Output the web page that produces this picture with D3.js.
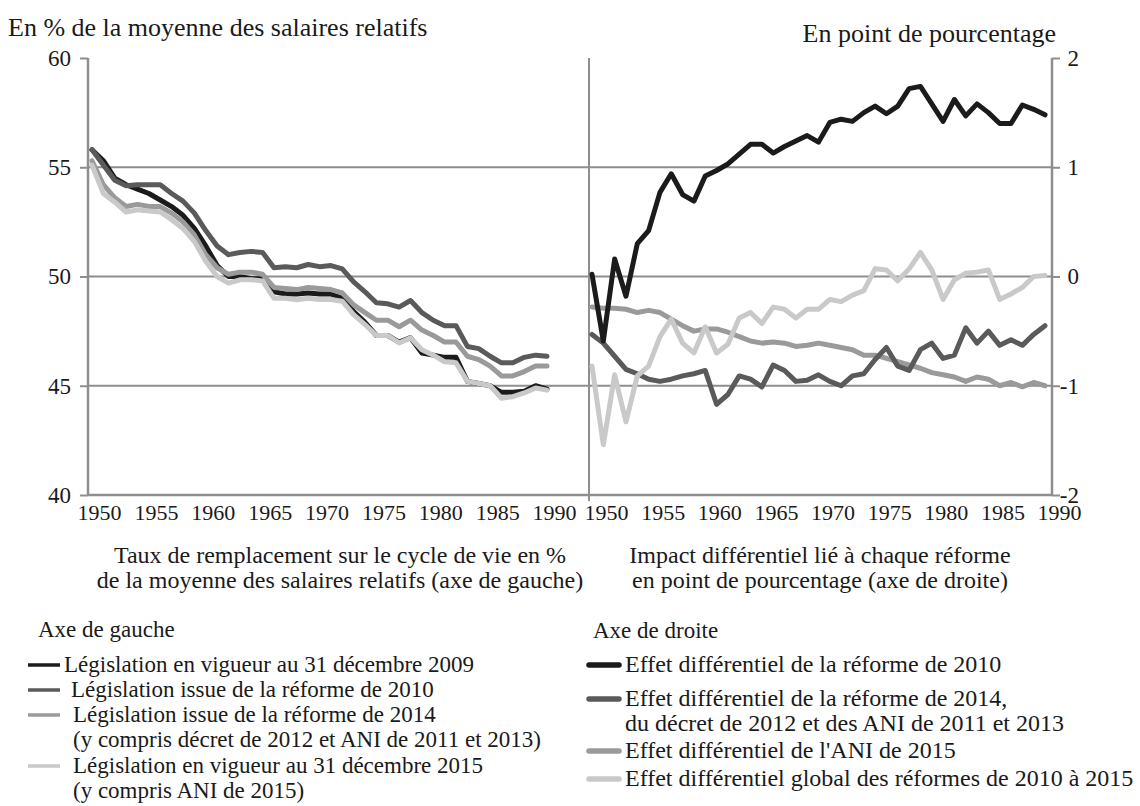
<!DOCTYPE html>
<html>
<head>
<meta charset="utf-8">
<script src="https://cdn.jsdelivr.net/npm/d3@7"></script>
<style>
  body { margin: 0; background: #fff; }
  svg text { font-family: "Liberation Serif", "Times New Roman", serif; }
</style>
</head>
<body>
<div id="chart"></div>
<script>
const years = d3.range(1950, 1991);
const yearTicks = d3.range(1950, 1991, 5);
const leftTicks = [40, 45, 50, 55, 60];
const rightTicks = [-2, -1, 0, 1, 2];

// Axe de gauche : taux de remplacement (%)
const legis2009 = [55.8, 55.3, 54.5, 54.2, 54.0, 53.8, 53.5, 53.2, 52.8, 52.2,
  51.4, 50.5, 50.0, 50.0, 49.9, 49.9, 49.3, 49.2, 49.2, 49.25,
  49.2, 49.2, 49.0, 48.4, 47.9, 47.3, 47.3, 47.0, 47.2, 46.5,
  46.4, 46.3, 46.3, 45.2, 45.1, 45.0, 44.7, 44.7, 44.75, 45.0, 44.85];
const legis2010 = [55.8, 55.1, 54.4, 54.15, 54.2, 54.2, 54.2, 53.8, 53.45, 52.9,
  52.1, 51.4, 51.0, 51.1, 51.15, 51.1, 50.4, 50.45, 50.4, 50.55,
  50.45, 50.5, 50.35, 49.75, 49.3, 48.8, 48.75, 48.6, 48.9, 48.35,
  48.0, 47.75, 47.75, 46.8, 46.7, 46.35, 46.05, 46.05, 46.3, 46.4, 46.35];
const legis2014 = [55.3, 54.2, 53.6, 53.2, 53.3, 53.2, 53.2, 52.9, 52.5, 51.9,
  51.0, 50.4, 50.1, 50.2, 50.2, 50.1, 49.5, 49.45, 49.4, 49.5,
  49.45, 49.4, 49.25, 48.7, 48.35, 48.0, 48.0, 47.7, 48.0, 47.55,
  47.3, 47.0, 47.0, 46.35, 46.2, 45.9, 45.45, 45.45, 45.65, 45.9, 45.9];
const legis2015 = [55.1, 53.8, 53.4, 52.95, 53.05, 53.0, 52.95, 52.6, 52.2, 51.6,
  50.7, 50.0, 49.7, 49.85, 49.85, 49.8, 49.0, 49.0, 48.94, 49.0,
  48.95, 48.95, 48.87, 48.26, 47.8, 47.3, 47.3, 46.96, 47.2, 46.65,
  46.4, 46.1, 46.05, 45.2, 45.1, 45.0, 44.43, 44.5, 44.67, 44.9, 44.8];

// Axe de droite : effets différentiels (points de pourcentage)
const effet2010 = [0.02, -0.59, 0.16, -0.18, 0.30, 0.42, 0.77, 0.94, 0.75, 0.69,
  0.92, 0.97, 1.03, 1.12, 1.21, 1.21, 1.13, 1.19, 1.24, 1.29,
  1.23, 1.41, 1.44, 1.42, 1.50, 1.56, 1.49, 1.56, 1.72, 1.74,
  1.58, 1.42, 1.62, 1.47, 1.58, 1.50, 1.40, 1.40, 1.57, 1.53, 1.48];
const effet2014 = [-0.53, -0.61, -0.73, -0.85, -0.89, -0.94, -0.96, -0.94, -0.91, -0.89,
  -0.86, -1.17, -1.08, -0.91, -0.94, -1.01, -0.81, -0.86, -0.96, -0.95,
  -0.90, -0.96, -1.00, -0.91, -0.89, -0.76, -0.65, -0.82, -0.86, -0.67,
  -0.61, -0.75, -0.72, -0.47, -0.61, -0.50, -0.63, -0.58, -0.63, -0.53, -0.45];
const effetAni2015 = [-0.28, -0.29, -0.29, -0.30, -0.33, -0.31, -0.33, -0.39, -0.45, -0.50,
  -0.48, -0.48, -0.51, -0.55, -0.59, -0.61, -0.60, -0.61, -0.64, -0.63,
  -0.61, -0.63, -0.65, -0.67, -0.72, -0.72, -0.75, -0.78, -0.81, -0.84,
  -0.88, -0.90, -0.92, -0.96, -0.92, -0.94, -1.00, -0.97, -1.01, -0.97, -1.00];
const effetGlobal = [-0.82, -1.54, -0.90, -1.33, -0.91, -0.82, -0.55, -0.39, -0.61, -0.70,
  -0.46, -0.70, -0.62, -0.38, -0.33, -0.43, -0.28, -0.30, -0.38, -0.30,
  -0.30, -0.21, -0.23, -0.17, -0.13, 0.07, 0.06, -0.04, 0.07, 0.22,
  0.06, -0.21, -0.03, 0.03, 0.04, 0.06, -0.21, -0.16, -0.10, 0.00, 0.01];

const colors = { noir: "#1b1b1b", fonce: "#5a5a5a", moyen: "#9a9a9a", clair: "#c9c9c9" };
const serif = '"Liberation Serif", "Times New Roman", serif';

const width = 1140, height = 806;
const plotTop = 58, plotBottom = 495;
const leftAxisX = 88, dividerX = 589, rightAxisX = 1052;

const svg = d3.select("#chart").append("svg")
  .attr("width", width)
  .attr("height", height)
  .attr("viewBox", [0, 0, width, height]);

const xL = d3.scaleLinear().domain([1950, 1990]).range([92, 547]);
const xR = d3.scaleLinear().domain([1950, 1990]).range([592, 1045]);
const yL = d3.scaleLinear().domain([40, 60]).range([plotBottom, plotTop]);
const yR = d3.scaleLinear().domain([-2, 2]).range([plotBottom, plotTop]);

// grille horizontale
svg.append("g")
  .selectAll("line")
  .data([45, 50, 55])
  .join("line")
  .attr("x1", leftAxisX).attr("x2", rightAxisX)
  .attr("y1", d => yL(d)).attr("y2", d => yL(d))
  .attr("stroke", "#8e8e8e")
  .attr("stroke-width", 2);

function styleAxis(g, size) {
  g.attr("font-family", null).attr("font-size", null);
  g.select(".domain").remove();
  g.selectAll(".tick line").attr("stroke", "#8e8e8e").attr("stroke-width", 2);
  g.selectAll(".tick text")
    .attr("fill", "#1a1a1a")
    .style("font-family", serif)
    .style("font-size", size + "px");
}

// axe gauche
const axisL = svg.append("g")
  .attr("transform", `translate(${leftAxisX},0)`)
  .call(d3.axisLeft(yL).tickValues(leftTicks).tickSize(8).tickPadding(9));
styleAxis(axisL, 23);

// axe droit
const axisR = svg.append("g")
  .attr("transform", `translate(${rightAxisX},0)`)
  .call(d3.axisRight(yR).tickValues(rightTicks).tickSize(8)
    .tickFormat(d => d < 0 ? "-" + Math.abs(d) : d));
styleAxis(axisR, 23);
axisR.selectAll(".tick text").attr("text-anchor", "end").attr("x", 27);

// cadres
const frame = svg.append("g").attr("stroke", "#8e8e8e").attr("stroke-width", 2.5);
frame.append("line").attr("x1", leftAxisX).attr("x2", leftAxisX).attr("y1", plotTop).attr("y2", plotBottom);
frame.append("line").attr("x1", rightAxisX).attr("x2", rightAxisX).attr("y1", plotTop).attr("y2", plotBottom);
frame.append("line").attr("x1", dividerX).attr("x2", dividerX).attr("y1", plotTop).attr("y2", plotBottom + 6)
  .attr("stroke-width", 2);
frame.append("line").attr("x1", leftAxisX).attr("x2", rightAxisX).attr("y1", plotBottom).attr("y2", plotBottom);

// années
function yearAxis(x, dx) {
  const g = svg.append("g")
    .attr("transform", `translate(0,${plotBottom})`)
    .call(d3.axisBottom(x).tickValues(yearTicks).tickFormat(d3.format("d")).tickSize(0).tickPadding(9));
  styleAxis(g, 22);
  g.selectAll(".tick text").attr("dx", dx);
}
yearAxis(xL, 7);
yearAxis(xR, 14);

// courbes
function drawLine(x, y, values, color) {
  const line = d3.line().x((d, i) => x(years[i])).y(d => y(d));
  svg.append("path")
    .datum(values)
    .attr("fill", "none")
    .attr("stroke", color)
    .attr("stroke-width", 5)
    .attr("stroke-linejoin", "round")
    .attr("stroke-linecap", "round")
    .attr("d", line);
}
drawLine(xL, yL, legis2009, colors.noir);
drawLine(xL, yL, legis2010, colors.fonce);
drawLine(xL, yL, legis2014, colors.moyen);
drawLine(xL, yL, legis2015, colors.clair);

drawLine(xR, yR, effetAni2015, colors.moyen);
drawLine(xR, yR, effet2014, colors.fonce);
drawLine(xR, yR, effetGlobal, colors.clair);
drawLine(xR, yR, effet2010, colors.noir);

// textes
const txt = (x, y, s, size, anchor) => svg.append("text")
  .attr("x", x).attr("y", y)
  .attr("font-size", size)
  .attr("fill", "#1a1a1a")
  .attr("text-anchor", anchor || "start")
  .text(s);

txt(8, 36, "En % de la moyenne des salaires relatifs", 26);
txt(1056, 42, "En point de pourcentage", 26, "end");

txt(340, 563, "Taux de remplacement sur le cycle de vie en %", 24, "middle");
txt(340, 588, "de la moyenne des salaires relatifs (axe de gauche)", 24, "middle");
txt(820, 563, "Impact différentiel lié à chaque réforme", 24, "middle");
txt(820, 588, "en point de pourcentage (axe de droite)", 24, "middle");

// légende gauche
txt(38, 637, "Axe de gauche", 23);
const legendLeft = [
  { label: ["Législation en vigueur au 31 décembre 2009"], color: colors.noir, y: 665, tx: 64 },
  { label: ["Législation issue de la réforme de 2010"], color: colors.fonce, y: 690, tx: 71 },
  { label: ["Législation issue de la réforme de 2014", "(y compris décret de 2012 et ANI de 2011 et 2013)"], color: colors.moyen, y: 715, tx: 73 },
  { label: ["Législation en vigueur au 31 décembre 2015", "(y compris ANI de 2015)"], color: colors.clair, y: 766, tx: 73 }
];
legendLeft.forEach(d => {
  svg.append("line")
    .attr("x1", 28).attr("x2", 60).attr("y1", d.y).attr("y2", d.y)
    .attr("stroke", d.color).attr("stroke-width", 3.5);
  d.label.forEach((s, i) => txt(d.tx, d.y + 7 + i * 25, s, 23));
});

// légende droite
txt(593, 638, "Axe de droite", 23);
const legendRight = [
  { label: ["Effet différentiel de la réforme de 2010"], color: colors.noir, y: 665 },
  { label: ["Effet différentiel de la réforme de 2014,", "du décret de 2012 et des ANI de 2011 et 2013"], color: colors.fonce, y: 699 },
  { label: ["Effet différentiel de l'ANI de 2015"], color: colors.moyen, y: 751 },
  { label: ["Effet différentiel global des réformes de 2010 à 2015"], color: colors.clair, y: 779 }
];
legendRight.forEach(d => {
  svg.append("line")
    .attr("x1", 589).attr("x2", 619).attr("y1", d.y).attr("y2", d.y)
    .attr("stroke", d.color).attr("stroke-width", 5.5).attr("stroke-linecap", "round");
  d.label.forEach((s, i) => txt(625, d.y + 7 + i * 25, s, 24));
});
</script>
</body>
</html>
